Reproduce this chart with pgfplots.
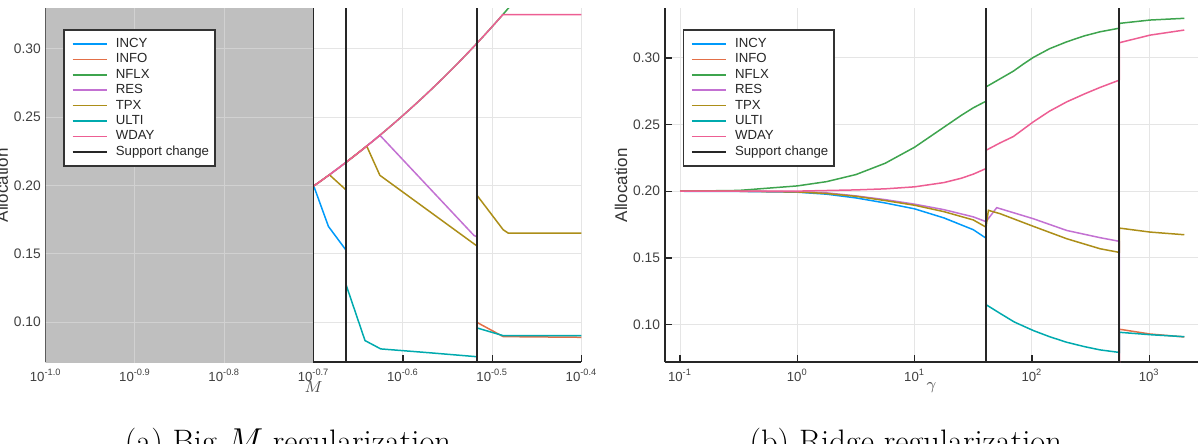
\documentclass[border=0pt]{standalone}
\usepackage{fontspec}
\usepackage{pgfplots}
\pgfplotsset{compat=1.18}
\newfontfamily\lib{Liberation Sans}
\definecolor{cINCY}{HTML}{009AFA}
\definecolor{cINFO}{HTML}{E36F47}
\definecolor{cNFLX}{HTML}{3EA44E}
\definecolor{cRES}{HTML}{C371D2}
\definecolor{cTPX}{HTML}{AC8E18}
\definecolor{cULTI}{HTML}{00AAAE}
\definecolor{cWDAY}{HTML}{ED5E93}
\pgfplotsset{
  mystyle/.style={
    scale only axis,
    axis lines*=left, axis line style={black!85, line width=0.9pt},
    tick align=inside, major tick length=3.5pt,
    tick style={black!85, line width=0.7pt},
    grid=major, major grid style={black!10, line width=0.5pt},
    ytick={0.10,0.15,0.20,0.25,0.30},
    yticklabels={0.10,0.15,0.20,0.25,0.30},
    yticklabel style={font=\lib\fontsize{6.9}{7}\selectfont, text=black!75, inner sep=0pt, xshift=-2.3pt},
    xticklabel style={font=\lib\fontsize{6.6}{7}\selectfont, text=black!75, inner sep=0pt, anchor=base, yshift=-9.7pt},
    ylabel={Allocation},
    legend cell align=left,
    legend image code/.code={\path (0pt,0pt); \draw[##1] (0.8pt,0pt) -- (18.1pt,0pt);},
    legend style={at={(0.0332,0.9415)}, anchor=north west, draw=black!80, fill=white, line width=0.8pt,
      inner xsep=2.9pt, inner ysep=4pt, font=\lib\fontsize{6.6}{7.7}\selectfont, text=black!85,
      row sep=1.5pt, column sep=3.9pt, nodes={inner sep=0pt, text height=4.8pt, text depth=1.4pt}},
    every axis plot/.append style={line width=0.75pt},
  }
}
\begin{document}
\begin{tikzpicture}
% ---------------- Left: Big-M ----------------
\begin{axis}[xmode=log, mystyle, xminorticks=false,
  at={(22.85pt,-181.15pt)}, anchor=south west,
  width=267.9pt, height=177pt,
  xmin=0.1, xmax=0.398107, ymin=0.0706, ymax=0.3296,
  xtick={0.1,0.125893,0.158489,0.199526,0.251189,0.316228,0.398107},
  xticklabels={10\textsuperscript{-1.0},10\textsuperscript{-0.9},10\textsuperscript{-0.8},10\textsuperscript{-0.7},10\textsuperscript{-0.6},10\textsuperscript{-0.5},10\textsuperscript{-0.4}},
  xlabel={$M$},
  xlabel style={font=\fontsize{8.5}{9}\selectfont, text=black!70, at={(axis description cs:0.5,-0.0839)}, anchor=base},
  ylabel style={font=\lib\fontsize{8.5}{9}\selectfont, text=black!80, at={(axis description cs:-0.0821,0.5)}, anchor=center},
]
\addplot[fill=black!25, draw=none, forget plot] coordinates {(0.1,0) (0.19953,0) (0.19953,1) (0.1,1) (0.1,0)};
\addplot[black!18, line width=0.5pt, forget plot] coordinates {(0.125893,0) (0.125893,1)};
\addplot[black!18, line width=0.5pt, forget plot] coordinates {(0.158489,0) (0.158489,1)};
\addplot[black!18, line width=0.5pt, forget plot] coordinates {(0.1,0.10) (0.19953,0.10)};
\addplot[black!18, line width=0.5pt, forget plot] coordinates {(0.1,0.15) (0.19953,0.15)};
\addplot[black!18, line width=0.5pt, forget plot] coordinates {(0.1,0.20) (0.19953,0.20)};
\addplot[black!18, line width=0.5pt, forget plot] coordinates {(0.1,0.25) (0.19953,0.25)};
\addplot[black!18, line width=0.5pt, forget plot] coordinates {(0.1,0.30) (0.19953,0.30)};
\addplot[cINCY] coordinates {(0.19953,0.2000) (0.2073,0.1700) (0.21677,0.1529) (0.21677,0) (0.39811,0)};
\addlegendentry{INCY}
\addplot[cINFO] coordinates {(0.19953,0) (0.30386,0) (0.30386,0.0999) (0.3253,0.0894) (0.39811,0.0889)};
\addlegendentry{INFO}
\addplot[cNFLX] coordinates {(0.19953,0.19953) (0.2025,0.2025) (0.2050,0.2050) (0.2078,0.2078) (0.2100,0.2100) (0.2130,0.2130) (0.21677,0.21677) (0.2200,0.2200) (0.2250,0.2250) (0.2288,0.2288) (0.2330,0.2330) (0.2367,0.2367) (0.2400,0.2400) (0.2450,0.2450) (0.2500,0.2500) (0.2550,0.2550) (0.2600,0.2600) (0.2650,0.2650) (0.2700,0.2700) (0.2750,0.2750) (0.2800,0.2800) (0.2850,0.2850) (0.2900,0.2900) (0.2950,0.2950) (0.3000,0.3000) (0.30386,0.30386) (0.3100,0.3100) (0.3150,0.3150) (0.3200,0.3200) (0.3250,0.3250) (0.3280,0.3280) (0.3310,0.3310) (0.39811,0.3310)};
\addlegendentry{NFLX}
\addplot[cRES] coordinates {(0.19953,0.19953) (0.2025,0.2025) (0.2050,0.2050) (0.2078,0.2078) (0.2100,0.2100) (0.2130,0.2130) (0.21677,0.21677) (0.2200,0.2200) (0.2250,0.2250) (0.2288,0.2288) (0.2330,0.2330) (0.2367,0.2367) (0.3017,0.1634) (0.30386,0.1625) (0.30386,0) (0.39811,0)};
\addlegendentry{RES}
\addplot[cTPX] coordinates {(0.19953,0.19953) (0.2025,0.2025) (0.2050,0.2050) (0.2078,0.2078) (0.21677,0.1969) (0.21677,0.21677) (0.2200,0.2200) (0.2250,0.2250) (0.2288,0.2288) (0.2367,0.2074) (0.30386,0.1558) (0.30386,0.1930) (0.3253,0.1676) (0.3296,0.1651) (0.39811,0.1651)};
\addlegendentry{TPX}
\addplot[cULTI] coordinates {(0.19953,0) (0.21677,0) (0.21677,0.1280) (0.2278,0.0865) (0.2372,0.0804) (0.2700,0.0775) (0.30386,0.0747) (0.30386,0.0958) (0.3253,0.0901) (0.39811,0.0901)};
\addlegendentry{ULTI}
\addplot[cWDAY] coordinates {(0.19953,0.19953) (0.2025,0.2025) (0.2050,0.2050) (0.2078,0.2078) (0.2100,0.2100) (0.2130,0.2130) (0.21677,0.21677) (0.2200,0.2200) (0.2250,0.2250) (0.2288,0.2288) (0.2330,0.2330) (0.2367,0.2367) (0.2400,0.2400) (0.2450,0.2450) (0.2500,0.2500) (0.2550,0.2550) (0.2600,0.2600) (0.2650,0.2650) (0.2700,0.2700) (0.2750,0.2750) (0.2800,0.2800) (0.2850,0.2850) (0.2900,0.2900) (0.2950,0.2950) (0.3000,0.3000) (0.30386,0.30386) (0.3100,0.3100) (0.3150,0.3150) (0.3200,0.3200) (0.3250,0.3250) (0.39811,0.3250)};
\addlegendentry{WDAY}
\addplot[black!85, line width=0.9pt] coordinates {(0.19953,0) (0.19953,1)};
\addlegendentry{Support change}
\addplot[black!85, line width=0.9pt, forget plot] coordinates {(0.21677,0) (0.21677,1)};
\addplot[black!85, line width=0.9pt, forget plot] coordinates {(0.30386,0) (0.30386,1)};
\end{axis}
% ---------------- Right: Ridge ----------------
\begin{axis}[xmode=log, mystyle, xminorticks=false,
  at={(332.5pt,-181.15pt)}, anchor=south west,
  width=266.5pt, height=177pt,
  xmin=0.0745, xmax=2606, ymin=0.0718, ymax=0.3371,
  xtick={0.1,1,10,100,1000},
  xticklabels={10\textsuperscript{-1},10\textsuperscript{0},10\textsuperscript{1},10\textsuperscript{2},10\textsuperscript{3}},
  xlabel={$\gamma$},
  xlabel style={font=\fontsize{8.5}{9}\selectfont, text=black!70, at={(axis description cs:0.5,-0.0757)}, anchor=base},
  ylabel style={font=\lib\fontsize{8.5}{9}\selectfont, text=black!80, at={(axis description cs:-0.0826,0.5)}, anchor=center},
]
\addplot[cINCY] coordinates {(0.1,0.2000) (0.31623,0.1999) (1,0.1993) (1.7783,0.1978) (3.1623,0.1950) (5.6234,0.1912) (10,0.1868) (17.783,0.1800) (31.623,0.1712) (40.644,0.1648) (40.644,0) (1990.7,0)};
\addlegendentry{INCY}
\addplot[cINFO] coordinates {(0.1,0) (555.9,0) (555.9,0.0966) (1016,0.0930) (1990.7,0.0908)};
\addlegendentry{INFO}
\addplot[cNFLX] coordinates {(0.1,0.2000) (0.31623,0.2006) (1,0.2040) (1.7783,0.2072) (3.1623,0.2125) (5.6234,0.2210) (10,0.2330) (17.783,0.2480) (25.119,0.2570) (31.623,0.2625) (40.644,0.2675) (40.644,0.2782) (50.119,0.2828) (69.5,0.2900) (85.11,0.2955) (102.8,0.3003) (141.25,0.3068) (198.2,0.3120) (281.8,0.3165) (381.1,0.3195) (555.9,0.3222) (555.9,0.3258) (1016,0.3283) (1990.7,0.3296)};
\addlegendentry{NFLX}
\addplot[cRES] coordinates {(0.1,0.2000) (0.31623,0.2000) (1,0.1996) (1.7783,0.1988) (3.1623,0.1965) (5.6234,0.1937) (10,0.1903) (17.783,0.1862) (31.623,0.1808) (40.644,0.1772) (50.119,0.1877) (102.8,0.1794) (198.2,0.1706) (381.1,0.1652) (545.8,0.1626) (555.9,0.1624) (555.9,0) (1990.7,0)};
\addlegendentry{RES}
\addplot[cTPX] coordinates {(0.1,0.2000) (0.31623,0.2000) (1,0.1995) (1.7783,0.1983) (3.1623,0.1962) (5.6234,0.1930) (10,0.1895) (17.783,0.1847) (31.623,0.1785) (40.644,0.1731) (42.56,0.1857) (53.46,0.1832) (102.8,0.1737) (198.2,0.1644) (381.1,0.1569) (545.8,0.1543) (555.9,0.1542) (555.9,0.1724) (1016,0.1694) (1990.7,0.1674)};
\addlegendentry{TPX}
\addplot[cULTI] coordinates {(0.1,0) (40.644,0) (40.644,0.1150) (53.46,0.1085) (70.79,0.1020) (102.8,0.0956) (141.25,0.0910) (198.2,0.0868) (281.8,0.0835) (381.1,0.0811) (545.8,0.0793) (555.9,0.0792) (555.9,0.0943) (1016,0.0925) (1990.7,0.0910)};
\addlegendentry{ULTI}
\addplot[cWDAY] coordinates {(0.1,0.2000) (1,0.2001) (3.1623,0.2010) (5.6234,0.2018) (10,0.2033) (17.783,0.2065) (25.119,0.2098) (31.623,0.2128) (40.644,0.2170) (40.644,0.2307) (53.46,0.2362) (69.5,0.2410) (102.8,0.2520) (141.25,0.2600) (198.2,0.2670) (281.8,0.2730) (381.1,0.2778) (545.8,0.2830) (555.9,0.2835) (555.9,0.3113) (1016,0.3170) (1990.7,0.3208)};
\addlegendentry{WDAY}
\addplot[black!85, line width=0.9pt] coordinates {(40.644,0) (40.644,1)};
\addlegendentry{Support change}
\addplot[black!85, line width=0.9pt, forget plot] coordinates {(555.9,0) (555.9,1)};
\end{axis}
\node[anchor=base, font=\fontsize{16.25}{19}\selectfont] at (144pt,-226.25pt) {(a) Big-$M$ regularization};
\node[anchor=base, font=\fontsize{16.25}{19}\selectfont] at (452.9pt,-226.25pt) {(b) Ridge regularization};
\pgfresetboundingbox
\useasboundingbox (0,0) rectangle (602pt,-222pt);
\end{tikzpicture}
\end{document}
